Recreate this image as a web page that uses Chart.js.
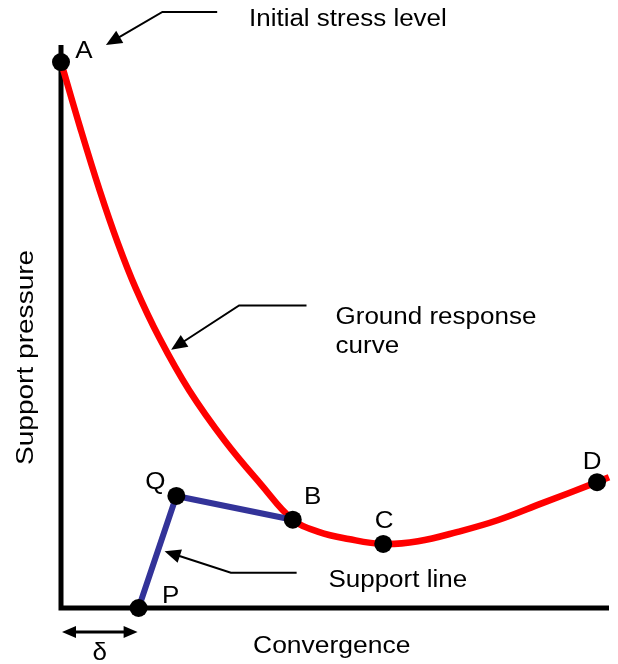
<!DOCTYPE html>
<html>
<head>
<meta charset="utf-8">
<script src="https://cdn.jsdelivr.net/npm/chart.js@4/dist/chart.umd.min.js"></script>
<style>
  html, body { margin: 0; padding: 0; background: #fff; }
  #wrap { width: 618px; height: 664px; }
</style>
</head>
<body>
<div id="wrap"><canvas id="chart"></canvas></div>
<script>
// ground response curve (convergence, support pressure), arbitrary units
const curveX = [0, 3.45, 7.08, 10.34, 13.61, 17.97, 23.41, 29.95, 36.48, 42.29, 47.0, 52.45, 58.8, 65.15, 72.41, 79.67, 87.84, 97.82, 100]
const curveY = [98.9, 87.2, 75.6, 66.2, 58.0, 48.9, 39.4, 30.2, 22.4, 16.0, 13.8, 12.5, 11.6, 12.1, 13.8, 15.9, 19.0, 22.8, 23.7]

// support line P -> Q -> B
const supportX = [14.16, 21.05, 42.29]
const supportY = [0, 20.3, 16.0]

// labelled points
const pointNames = ['A', 'Q', 'B', 'C', 'D', 'P']
const pointX = [0, 21.05, 42.29, 58.8, 97.82, 14.16]
const pointY = [98.9, 20.3, 16.0, 11.6, 22.8, 0]
// label offsets in pixels from the marker
const labelDx = [23, -21, 20, 1, -5, 32]
const labelDy = [-4, -7, -16, -16, -13, -5]

// call-outs: text + bent arrow (tail, bend, tip) in data units
const callouts = [
  { lines: ['Initial stress level'], at: [34.3, 105.4], arrow: [[28.5, 108], [18.5, 108], [8.2, 102]] },
  { lines: ['Ground response', 'curve'], at: [50.1, 51.5], arrow: [[44.8, 54.8], [32.5, 54.8], [20.1, 46.8]] },
  { lines: ['Support line'], at: [48.8, 3.8], arrow: [[43.0, 6.4], [31.0, 6.4], [18.9, 10.3]] },
]

const FONT = "23px 'Liberation Sans', Arial, sans-serif"
const STRETCH = 1.13

const toPts = (xs, ys) => xs.map((x, i) => ({ x: x, y: ys[i] }))

function drawText(ctx, text, x, y, align, rot, stretch) {
  ctx.save()
  ctx.translate(x, y)
  if (rot) ctx.rotate(rot)
  ctx.scale(stretch || STRETCH, 1)
  ctx.font = FONT
  ctx.fillStyle = '#000'
  ctx.textAlign = align || 'left'
  ctx.textBaseline = 'alphabetic'
  ctx.fillText(text, 0, 0)
  ctx.restore()
}

function arrowHead(ctx, fx, fy, tx, ty, len, half) {
  const a = Math.atan2(ty - fy, tx - fx)
  ctx.beginPath()
  ctx.moveTo(tx, ty)
  ctx.lineTo(tx - len * Math.cos(a) + half * Math.sin(a), ty - len * Math.sin(a) - half * Math.cos(a))
  ctx.lineTo(tx - len * Math.cos(a) - half * Math.sin(a), ty - len * Math.sin(a) + half * Math.cos(a))
  ctx.closePath()
  ctx.fill()
}

const axesPlugin = {
  id: 'axes',
  beforeDatasetsDraw(chart) {
    const { ctx, chartArea: a } = chart
    ctx.save()
    ctx.strokeStyle = '#000'
    ctx.lineWidth = 5
    ctx.lineCap = 'butt'
    ctx.beginPath()
    ctx.moveTo(a.left, a.top)
    ctx.lineTo(a.left, a.bottom + 2.5)
    ctx.moveTo(a.left - 2.5, a.bottom)
    ctx.lineTo(a.right, a.bottom)
    ctx.stroke()
    ctx.restore()
  },
  afterDatasetsDraw(chart) {
    const { ctx, scales: { x, y }, chartArea: a } = chart
    const X = (v) => x.getPixelForValue(v)
    const Y = (v) => y.getPixelForValue(v)
    ctx.save()

    // point labels
    pointNames.forEach((n, i) => {
      drawText(ctx, n, X(pointX[i]) + labelDx[i], Y(pointY[i]) + labelDy[i], 'center')
    })

    // call-outs
    ctx.strokeStyle = '#000'
    ctx.fillStyle = '#000'
    ctx.lineWidth = 2
    callouts.forEach((c) => {
      const p = c.arrow.map((q) => [X(q[0]), Y(q[1])])
      const n = p.length
      const a0 = Math.atan2(p[n - 1][1] - p[n - 2][1], p[n - 1][0] - p[n - 2][0])
      ctx.beginPath()
      ctx.moveTo(p[0][0], p[0][1])
      for (let i = 1; i < n - 1; i++) ctx.lineTo(p[i][0], p[i][1])
      ctx.lineTo(p[n - 1][0] - 10 * Math.cos(a0), p[n - 1][1] - 10 * Math.sin(a0))
      ctx.stroke()
      arrowHead(ctx, p[n - 2][0], p[n - 2][1], p[n - 1][0], p[n - 1][1], 16, 7)
      c.lines.forEach((t, k) => drawText(ctx, t, X(c.at[0]), Y(c.at[1]) + k * 29, 'left'))
    })

    // delta: offset of support installation
    const dy = Y(0) + 24
    const d0 = X(0) + 1
    const d1 = X(pointX[5]) - 1
    ctx.lineWidth = 3
    ctx.beginPath()
    ctx.moveTo(d0 + 10, dy)
    ctx.lineTo(d1 - 10, dy)
    ctx.stroke()
    arrowHead(ctx, d1, dy, d0, dy, 14, 6)
    arrowHead(ctx, d0, dy, d1, dy, 14, 6)
    drawText(ctx, 'δ', (d0 + d1) / 2, Y(0) + 52, 'center')

    // axis titles
    drawText(ctx, 'Convergence', X(49.4), Y(0) + 45, 'center', 0, 1.15)
    drawText(ctx, 'Support pressure', a.left - 28, Y(45.4), 'center', -Math.PI / 2, 1.22)
    ctx.restore()
  },
}

new Chart(document.getElementById('chart'), {
  type: 'scatter',
  data: {
    datasets: [
      {
        label: 'Ground response curve',
        data: toPts(curveX, curveY),
        showLine: true,
        borderColor: '#ff0000',
        borderWidth: 6.5,
        pointRadius: 0,
        tension: 0.4,
        order: 3,
      },
      {
        label: 'Support line',
        data: toPts(supportX, supportY),
        showLine: true,
        borderColor: '#333399',
        borderWidth: 6,
        pointRadius: 0,
        order: 2,
      },
      {
        label: 'Points',
        data: toPts(pointX, pointY),
        showLine: false,
        pointRadius: 9,
        pointBackgroundColor: '#000',
        pointBorderWidth: 0,
        order: 1,
      },
    ],
  },
  options: {
    responsive: true,
    maintainAspectRatio: false,
    animation: false,
    events: [],
    layout: { padding: { left: 61, right: 6, top: 45, bottom: 56 } },
    clip: false,
    scales: {
      x: { type: 'linear', min: 0, max: 100, display: false },
      y: { type: 'linear', min: 0, max: 102, display: false },
    },
    plugins: {
      legend: { display: false },
      tooltip: { enabled: false },
    },
  },
  plugins: [axesPlugin],
})
</script>
</body>
</html>
